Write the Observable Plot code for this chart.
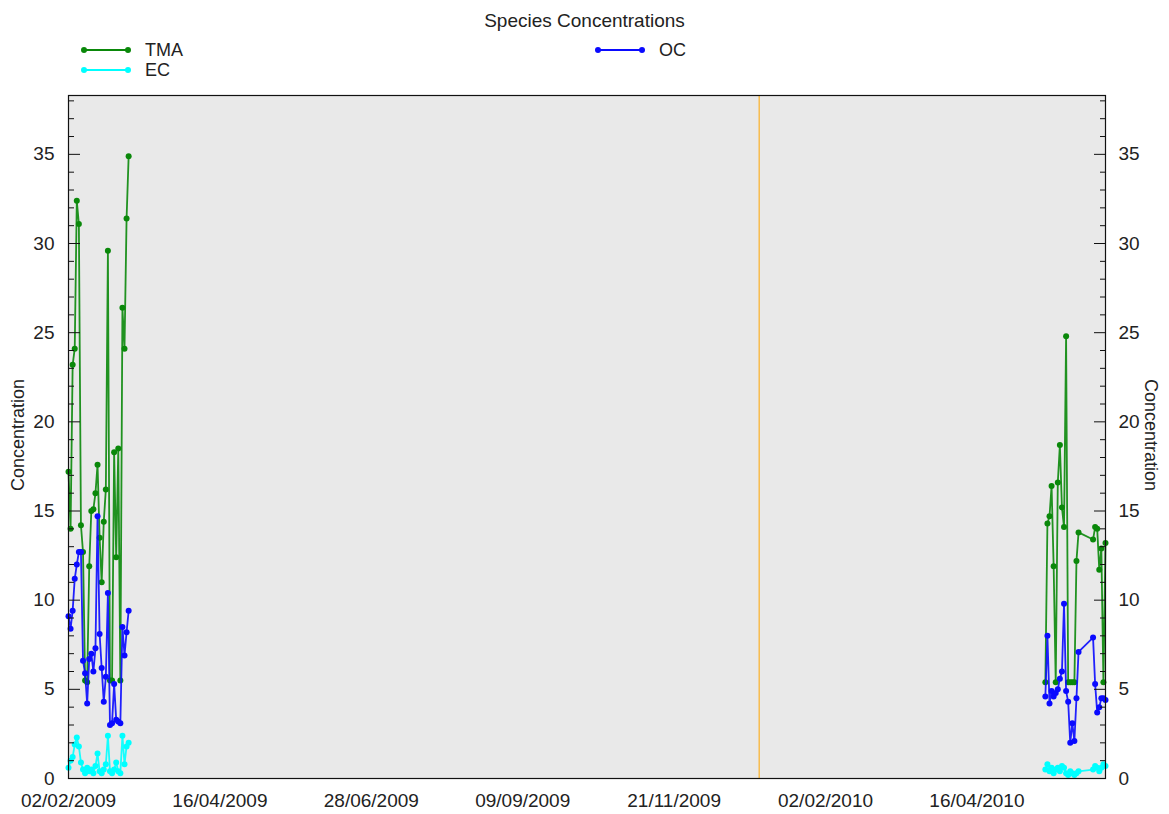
<!DOCTYPE html>
<html><head><meta charset="utf-8">
<script src="https://cdn.jsdelivr.net/npm/d3@7"></script>
<script src="https://cdn.jsdelivr.net/npm/@observablehq/plot@0.6"></script>
<style>
body{margin:0;background:#fff;font-family:"Liberation Sans",Arial,sans-serif;}
#wrap{position:relative;width:1169px;height:814px;overflow:hidden;}
#chart{position:absolute;left:0;top:0;}
.t{position:absolute;color:#222;white-space:nowrap;font-size:18px;line-height:1;}
</style></head><body><div id="wrap"><div id="chart"></div></div>
<script>
// ---- data ----
const dates1 = ["2009-02-02","2009-02-03","2009-02-04","2009-02-05","2009-02-06","2009-02-07","2009-02-08","2009-02-09","2009-02-10","2009-02-11",
"2009-02-12","2009-02-13","2009-02-14","2009-02-15","2009-02-16","2009-02-17","2009-02-18","2009-02-19","2009-02-20","2009-02-21",
"2009-02-22","2009-02-23","2009-02-24","2009-02-25","2009-02-26","2009-02-27","2009-02-28","2009-03-01","2009-03-02","2009-03-03"];
const tma1 = [17.2,14.0,23.2,24.1,32.4,31.1,14.2,12.7,5.5,5.4,11.9,15.0,15.1,16.0,17.6,13.5,11.0,14.4,16.2,29.6,5.5,5.5,18.3,12.4,18.5,5.5,26.4,24.1,31.4,34.9];
const oc1  = [9.1,8.4,9.4,11.2,12.0,12.7,12.7,6.6,5.9,4.2,6.7,7.0,6.0,7.3,14.7,8.1,6.2,4.3,5.7,10.4,3.0,3.1,5.3,3.3,3.2,3.1,8.5,6.9,8.2,9.4];
const ec1  = [0.6,1.0,1.2,1.9,2.3,1.8,0.9,0.5,0.3,0.6,0.4,0.5,0.3,0.7,1.4,0.4,0.3,0.5,0.8,2.4,0.4,0.3,0.5,0.9,0.4,0.3,2.4,0.8,1.8,2.0];

const dates2 = ["2010-05-19","2010-05-20","2010-05-21","2010-05-22","2010-05-23","2010-05-24","2010-05-25","2010-05-26","2010-05-27","2010-05-28",
"2010-05-29","2010-05-30","2010-05-31","2010-06-01","2010-06-02","2010-06-03","2010-06-04",
"2010-06-11","2010-06-12","2010-06-13","2010-06-14","2010-06-15","2010-06-16","2010-06-17"];
const tma2 = [5.4,14.3,14.7,16.4,11.9,5.4,16.6,18.7,15.2,14.1,24.8,5.4,5.4,5.4,5.4,12.2,13.8,13.4,14.1,14.0,11.7,12.9,5.4,13.2];
const oc2  = [4.6,8.0,4.2,4.9,4.6,4.8,5.0,5.6,6.0,9.8,4.9,4.3,2.0,3.1,2.1,4.5,7.1,7.9,5.3,3.7,4.0,4.5,4.5,4.4];
const ec2  = [0.5,0.8,0.4,0.6,0.3,0.5,0.6,0.4,0.7,0.6,0.3,0.2,0.4,0.3,0.2,0.3,0.4,0.5,0.7,0.6,0.4,0.6,0.8,0.7];

const seriesNames = ["TMA","OC","EC"];
const seriesColors = ["#0a880a","#0a0aff","#00ffff"];
const xTickDates = ["2009-02-02","2009-04-16","2009-06-28","2009-09-09","2009-11-21","2010-02-02","2010-04-16"];
const yTicks = [0,5,10,15,20,25,30,35];
const yMinorTicks = [0,1,2,3,4,6,7,8,9,11,12,13,14,16,17,18,19,21,22,23,24,26,27,28,29,31,32,33,34,36,37,38];
const yearMarker = ["2010-01-01"];
const xDomain = ["2009-02-02","2010-06-17"];
const yDomain = [0, 38.3];

// ---- build rows ----
const pd = s => new Date(s + "T00:00:00Z");
const rows = [];
const add = (dates, vals, series, seg) => dates.forEach((d, i) => rows.push({date: pd(d), value: vals[i], series, seg}));
add(dates1, tma1, "TMA", 1); add(dates2, tma2, "TMA", 2);
add(dates1, oc1, "OC", 1);   add(dates2, oc2, "OC", 2);
add(dates1, ec1, "EC", 1);   add(dates2, ec2, "EC", 2);

const fmt = d3.utcFormat("%d/%m/%Y");
const lineDot = name => [
  Plot.line(rows.filter(r => r.series === name), {x: "date", y: "value", z: "seg", stroke: "series", strokeWidth: 1.8, strokeOpacity: 0.9}),
  Plot.dot(rows.filter(r => r.series === name), {x: "date", y: "value", fill: "series", r: 3})
];

const chart = Plot.plot({
  width: 1169, height: 814,
  marginLeft: 68, marginRight: 64, marginTop: 95, marginBottom: 36,
  style: {fontFamily: '"Liberation Sans", Arial, sans-serif', fontSize: "18px", color: "#222", background: "transparent"},
  x: {type: "utc", domain: xDomain.map(pd)},
  y: {domain: yDomain},
  color: {domain: seriesNames, range: seriesColors},
  marks: [
    Plot.frame({fill: "#eeeeee"}),
    Plot.ruleX(yearMarker.map(pd), {stroke: "#ffa500", strokeWidth: 1}),
    ...lineDot("TMA"),
    ...lineDot("OC"),
    ...lineDot("EC"),
    Plot.frame({stroke: "#111", strokeWidth: 1.2}),
    Plot.axisX({ticks: xTickDates.map(pd), tickFormat: fmt, tickSize: 0, tickPadding: 15, label: null, fontSize: 19}),
    Plot.axisY({anchor: "left", ticks: yTicks, tickSize: 0, tickPadding: 14, label: null, fontSize: 19}),
    Plot.axisY({anchor: "left", ticks: yTicks, tickSize: -12, text: null, label: null, stroke: "#111"}),
    Plot.axisY({anchor: "left", ticks: yMinorTicks, tickSize: -6, text: null, label: null, stroke: "#111"}),
    Plot.axisY({anchor: "right", ticks: yTicks, tickSize: 0, tickPadding: 13, label: null, fontSize: 19}),
    Plot.axisY({anchor: "right", ticks: yTicks, tickSize: -12, text: null, label: null, stroke: "#111"}),
    Plot.axisY({anchor: "right", ticks: yMinorTicks, tickSize: -6, text: null, label: null, stroke: "#111"})
  ]
});
document.getElementById("chart").appendChild(chart);

// dotted background pattern
const svg = d3.select(chart);
const defs = svg.insert("defs", ":first-child");
const pat = defs.append("pattern").attr("id", "dots").attr("width", 2).attr("height", 2).attr("patternUnits", "userSpaceOnUse");
pat.append("rect").attr("width", 2).attr("height", 2).attr("fill", "#ffffff");
pat.append("rect").attr("width", 1).attr("height", 1).attr("fill", "#a8a8a8");
svg.selectAll('rect[fill="#eeeeee"]').attr("fill", "url(#dots)");

// title, legend and axis titles
const wrap = document.getElementById("wrap");
const addText = (txt, css) => { const d = document.createElement("div"); d.className = "t"; d.textContent = txt; Object.assign(d.style, css); wrap.appendChild(d); return d; };
addText("Species Concentrations", {left: "0px", width: "1169px", textAlign: "center", top: "11px", fontSize: "19px"});
const legendItems = [
  {name: "TMA", x: 84, y: 50},
  {name: "EC", x: 84, y: 70},
  {name: "OC", x: 598, y: 50}
];
const ns = "http://www.w3.org/2000/svg";
legendItems.forEach(it => {
  const color = seriesColors[seriesNames.indexOf(it.name)];
  const s = document.createElementNS(ns, "svg");
  s.setAttribute("width", 52); s.setAttribute("height", 10);
  s.style.position = "absolute"; s.style.left = (it.x - 4) + "px"; s.style.top = (it.y - 5) + "px";
  s.innerHTML = `<line x1="4" y1="5" x2="48" y2="5" stroke="${color}" stroke-width="1.8"/><circle cx="4" cy="5" r="3" fill="${color}"/><circle cx="48" cy="5" r="3" fill="${color}"/>`;
  wrap.appendChild(s);
  addText(it.name, {left: (it.x + 61) + "px", top: (it.y - 9) + "px", fontSize: "18px"});
});
const yl = addText("Concentration", {left: "18px", top: "435px", fontSize: "18px"});
yl.style.transform = "translate(-50%,-50%) rotate(-90deg)";
const yr = addText("Concentration", {left: "1151px", top: "435px", fontSize: "18px"});
yr.style.transform = "translate(-50%,-50%) rotate(90deg)";
</script></body></html>
